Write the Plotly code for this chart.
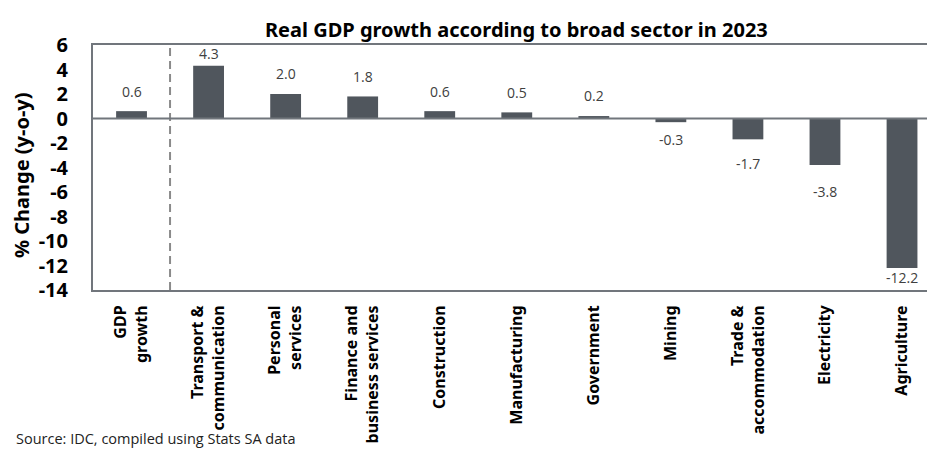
import plotly.graph_objects as go

# Sector growth figures (% y-o-y, 2023)
categories = [
    "GDP<br>growth",
    "Transport &<br>communication",
    "Personal<br>services",
    "Finance and<br>business services",
    "Construction",
    "Manufacturing",
    "Government",
    "Mining",
    "Trade &<br>accommodation",
    "Electricity",
    "Agriculture",
]
growth = [0.6, 4.3, 2.0, 1.8, 0.6, 0.5, 0.2, -0.3, -1.7, -3.8, -12.2]
y_ticks = [6, 4, 2, 0, -2, -4, -6, -8, -10, -12, -14]

# Vertical pixel offsets for the value labels
label_shift = [20, 12, 21, 20, 20, 20, 21, -17, -24, -26, -10]

BAR = "#50565d"
FRAME = "#71767c"
FONT = "Noto Sans"

W, H = 927, 450
ML, MT, MB, MR = 93, 45, 160, 0

x_idx = list(range(len(categories)))

fig = go.Figure()
fig.add_trace(go.Bar(
    x=x_idx, y=growth, width=0.4,
    marker=dict(color=BAR, line=dict(width=0)),
    hoverinfo="skip",
))

for i, v in enumerate(growth):
    fig.add_annotation(
        x=i, y=v, xref="x", yref="y", text=f"{v:.1f}", showarrow=False,
        yanchor="middle", yshift=label_shift[i],
        font=dict(family="Open Sans", size=14, color="#404040"),
    )

# Separator between total GDP and the sectors
fig.add_shape(type="line", x0=0.5, x1=0.5, y0=0, y1=1, xref="x", yref="paper",
              line=dict(color="#8a8a8a", width=2, dash="8px,5px"))

# Zero line
fig.add_shape(type="line", x0=0, x1=1, y0=0, y1=0, xref="paper", yref="y",
              line=dict(color=FRAME, width=2))

plot_w = W - ML - MR
x_end = -0.5 + plot_w / 77.05

fig.update_xaxes(
    range=[-0.5, x_end], tickmode="array", tickvals=x_idx, ticktext=categories,
    tickangle=-90, showline=True, mirror=True, linecolor=FRAME, linewidth=2,
    ticks="", showgrid=False, zeroline=False, ticklabelstandoff=7,
    tickfont=dict(family=FONT, size=16, color="#000000", weight="bold"),
)
fig.update_yaxes(
    range=[-14, 6], tickmode="array", tickvals=y_ticks,
    ticktext=[str(t) for t in y_ticks],
    showline=True, mirror=False, linecolor=FRAME, linewidth=2,
    ticks="", showgrid=False, zeroline=False, ticklabelstandoff=19,
    tickfont=dict(family=FONT, size=20, color="#000000", weight="bold"),
)

# Chart title, axis title and source note
fig.add_annotation(
    x=(ML + (ML + 11 * 77.05)) / 2 / W, y=1 - 29 / H, xref="paper", yref="paper",
    xanchor="center", yanchor="middle", showarrow=False,
    text="<b>Real GDP growth according to broad sector in 2023</b>",
    font=dict(family=FONT, size=20, color="#000000"),
)
fig.add_annotation(
    x=22 / W, y=1 - 175 / H, xref="paper", yref="paper", textangle=-90,
    xanchor="center", yanchor="middle", showarrow=False,
    text="<b>% Change (y-o-y)</b>",
    font=dict(family=FONT, size=20, color="#000000"),
)
fig.add_annotation(
    x=14 / W, y=1 - 439 / H, xref="paper", yref="paper",
    xanchor="left", yanchor="middle", showarrow=False,
    text="Source: IDC, compiled using Stats SA data",
    font=dict(family="Open Sans", size=14.5, color="#222222"),
)

# Convert annotation paper coordinates from full-canvas fractions
for a in fig.layout.annotations:
    if a.xref == "paper":
        a.x = (a.x * W - ML) / plot_w
        a.y = ((a.y * H) - MB) / (H - MT - MB)

fig.update_layout(
    width=W, height=H, autosize=False,
    margin=dict(l=ML, r=MR, t=MT, b=MB, pad=0),
    paper_bgcolor="white", plot_bgcolor="white",
    showlegend=False, bargap=0.6,
)

fig.write_html("out.html", config={"displayModeBar": False})
